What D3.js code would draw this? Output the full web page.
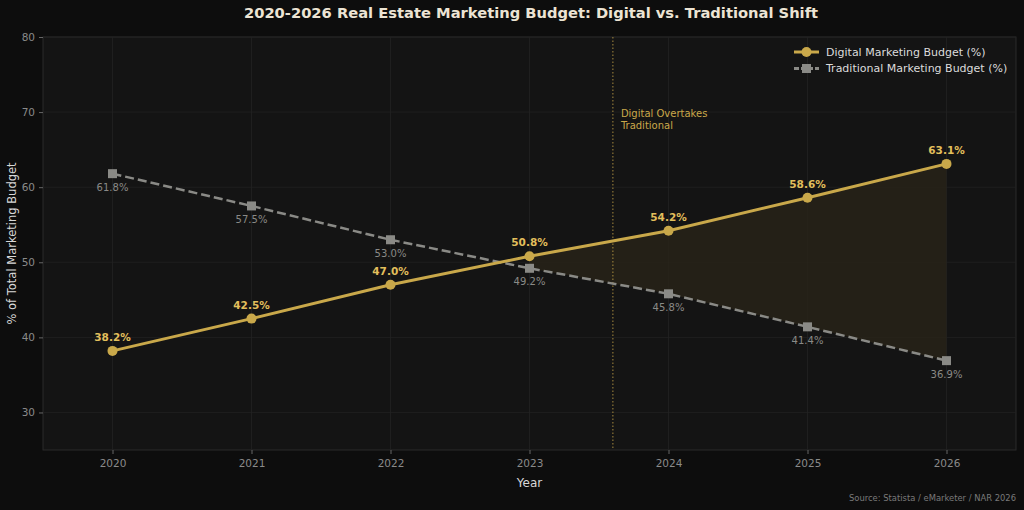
<!DOCTYPE html>
<html>
<head>
<meta charset="utf-8">
<style>
  html, body { margin: 0; padding: 0; background: #0d0d0d; }
  svg { display: block; font-family: "DejaVu Sans", sans-serif; }
</style>
</head>
<body>
<svg width="1024" height="510"></svg>
<script src="https://cdn.jsdelivr.net/npm/d3@7"></script>
<script>

var years = [2020, 2021, 2022, 2023, 2024, 2025, 2026];
var digital = [38.2, 42.5, 47.0, 50.8, 54.2, 58.6, 63.1];
var traditional = [61.8, 57.5, 53.0, 49.2, 45.8, 41.4, 36.9];
var yTicks = [30, 40, 50, 60, 70, 80];
var crossoverYear = 2023.6;

var goldColor = "#c9a84a",
    grayColor = "#8a8a86";

var svg = d3.select("svg"),
    margin = {top: 37, right: 8, bottom: 60, left: 43},
    width = +svg.attr("width") - margin.left - margin.right,
    height = +svg.attr("height") - margin.top - margin.bottom;

svg.append("rect").attr("width", 1024).attr("height", 510).attr("fill", "#0d0d0d");

var g = svg.append("g").attr("transform", "translate(" + margin.left + "," + margin.top + ")");

var x = d3.scaleLinear().domain([2019.5, 2026.5]).range([0, width]);
var y = d3.scaleLinear().domain([25, 80]).range([height, 0]);

g.append("rect")
    .attr("width", width)
    .attr("height", height)
    .attr("fill", "#141414")
    .attr("stroke", "#2a2a2a");

// grid
g.append("g").selectAll("line")
    .data(yTicks)
  .enter().append("line")
    .attr("x1", 0).attr("x2", width)
    .attr("y1", function(d) { return y(d); })
    .attr("y2", function(d) { return y(d); })
    .attr("stroke", "#222")
    .attr("stroke-width", 0.8);

g.append("g").selectAll("line")
    .data(years)
  .enter().append("line")
    .attr("y1", 0).attr("y2", height)
    .attr("x1", function(d) { return x(d); })
    .attr("x2", function(d) { return x(d); })
    .attr("stroke", "#222")
    .attr("stroke-width", 0.8);

// axes
var xAxis = g.append("g")
    .attr("transform", "translate(0," + height + ")")
    .call(d3.axisBottom(x).tickValues(years).tickFormat(d3.format("d")).tickSize(4).tickPadding(6));

var yAxis = g.append("g")
    .call(d3.axisLeft(y).tickValues(yTicks).tickSize(4).tickPadding(4));

[xAxis, yAxis].forEach(function(a) {
  a.select(".domain").remove();
  a.selectAll("line").attr("stroke", "#666");
  a.selectAll("text").attr("fill", "#8a8a8a").attr("font-size", 10.5).attr("font-family", "DejaVu Sans");
});

// shaded gap where digital leads
var fillData = years.map(function(d, i) { return {year: d, dig: digital[i], trad: traditional[i]}; })
    .filter(function(d) { return d.dig >= d.trad; });

g.append("path")
    .datum(fillData)
    .attr("fill", "#2a2418")
    .attr("fill-opacity", 0.75)
    .attr("d", d3.area()
        .x(function(d) { return x(d.year); })
        .y0(function(d) { return y(d.trad); })
        .y1(function(d) { return y(d.dig); }));

// crossover marker
g.append("line")
    .attr("x1", x(crossoverYear)).attr("x2", x(crossoverYear))
    .attr("y1", 0).attr("y2", height)
    .attr("stroke", goldColor)
    .attr("stroke-opacity", 0.8)
    .attr("stroke-width", 1)
    .attr("stroke-dasharray", "1.5,2");

var note = g.append("text")
    .attr("x", x(crossoverYear) + 8)
    .attr("y", y(69) - 3)
    .attr("fill", goldColor)
    .attr("font-size", 10);
note.append("tspan").attr("x", x(crossoverYear) + 8).text("Digital Overtakes");
note.append("tspan").attr("x", x(crossoverYear) + 8).attr("dy", 12).text("Traditional");

// lines
var line = d3.line()
    .x(function(d, i) { return x(years[i]); })
    .y(function(d) { return y(d); });

g.append("path")
    .datum(traditional)
    .attr("fill", "none")
    .attr("stroke", grayColor)
    .attr("stroke-width", 2.5)
    .attr("stroke-dasharray", "9,4")
    .attr("d", line);

g.append("path")
    .datum(digital)
    .attr("fill", "none")
    .attr("stroke", goldColor)
    .attr("stroke-width", 3)
    .attr("d", line);

g.append("g").selectAll("rect")
    .data(traditional)
  .enter().append("rect")
    .attr("x", function(d, i) { return x(years[i]) - 4.5; })
    .attr("y", function(d) { return y(d) - 4.5; })
    .attr("width", 9).attr("height", 9)
    .attr("fill", grayColor);

g.append("g").selectAll("circle")
    .data(digital)
  .enter().append("circle")
    .attr("cx", function(d, i) { return x(years[i]); })
    .attr("cy", function(d) { return y(d); })
    .attr("r", 5)
    .attr("fill", goldColor);

// value labels
g.append("g").selectAll("text")
    .data(digital)
  .enter().append("text")
    .attr("x", function(d, i) { return x(years[i]); })
    .attr("y", function(d) { return y(d) - 10; })
    .attr("text-anchor", "middle")
    .attr("fill", "#e2bf5c")
    .attr("font-weight", "bold")
    .attr("font-size", 10.5)
    .text(function(d) { return d.toFixed(1) + "%"; });

g.append("g").selectAll("text")
    .data(traditional)
  .enter().append("text")
    .attr("x", function(d, i) { return x(years[i]); })
    .attr("y", function(d) { return y(d) + 17; })
    .attr("text-anchor", "middle")
    .attr("fill", "#8a8a86")
    .attr("font-size", 10)
    .text(function(d) { return d.toFixed(1) + "%"; });

// legend
var legendItems = [
  {label: "Digital Marketing Budget (%)", color: goldColor, shape: "circle", dash: null},
  {label: "Traditional Marketing Budget (%)", color: grayColor, shape: "square", dash: "5,2"}
];

var legend = g.append("g")
    .attr("transform", "translate(" + (width - 222) + ",15)")
  .selectAll("g")
    .data(legendItems)
  .enter().append("g")
    .attr("transform", function(d, i) { return "translate(0," + i * 16.5 + ")"; });

legend.append("line")
    .attr("x1", 0).attr("x2", 25)
    .attr("stroke", function(d) { return d.color; })
    .attr("stroke-width", 3)
    .attr("stroke-dasharray", function(d) { return d.dash; });

legend.filter(function(d) { return d.shape === "circle"; })
  .append("circle")
    .attr("cx", 12.5).attr("r", 5)
    .attr("fill", function(d) { return d.color; });

legend.filter(function(d) { return d.shape === "square"; })
  .append("rect")
    .attr("x", 8).attr("y", -4.5).attr("width", 9).attr("height", 9)
    .attr("fill", function(d) { return d.color; });

legend.append("text")
    .attr("x", 32)
    .attr("dy", "0.35em")
    .attr("fill", "#dcdcdc")
    .attr("font-size", 11)
    .text(function(d) { return d.label; });

// titles
svg.append("text")
    .attr("x", 531)
    .attr("y", 18)
    .attr("text-anchor", "middle")
    .attr("fill", "#ece4d4")
    .attr("font-weight", "bold")
    .attr("font-size", 14.7)
    .text("2020-2026 Real Estate Marketing Budget: Digital vs. Traditional Shift");

svg.append("text")
    .attr("x", margin.left + width / 2)
    .attr("y", 487)
    .attr("text-anchor", "middle")
    .attr("fill", "#d8d8d8")
    .attr("font-size", 12)
    .text("Year");

svg.append("text")
    .attr("transform", "translate(16," + (margin.top + height / 2) + ") rotate(-90)")
    .attr("text-anchor", "middle")
    .attr("fill", "#d8d8d8")
    .attr("font-size", 11.5)
    .text("% of Total Marketing Budget");

svg.append("text")
    .attr("x", 1016)
    .attr("y", 501)
    .attr("text-anchor", "end")
    .attr("fill", "#7a7a7a")
    .attr("font-size", 8.4)
    .text("Source: Statista / eMarketer / NAR 2026");

</script>
</body>
</html>
